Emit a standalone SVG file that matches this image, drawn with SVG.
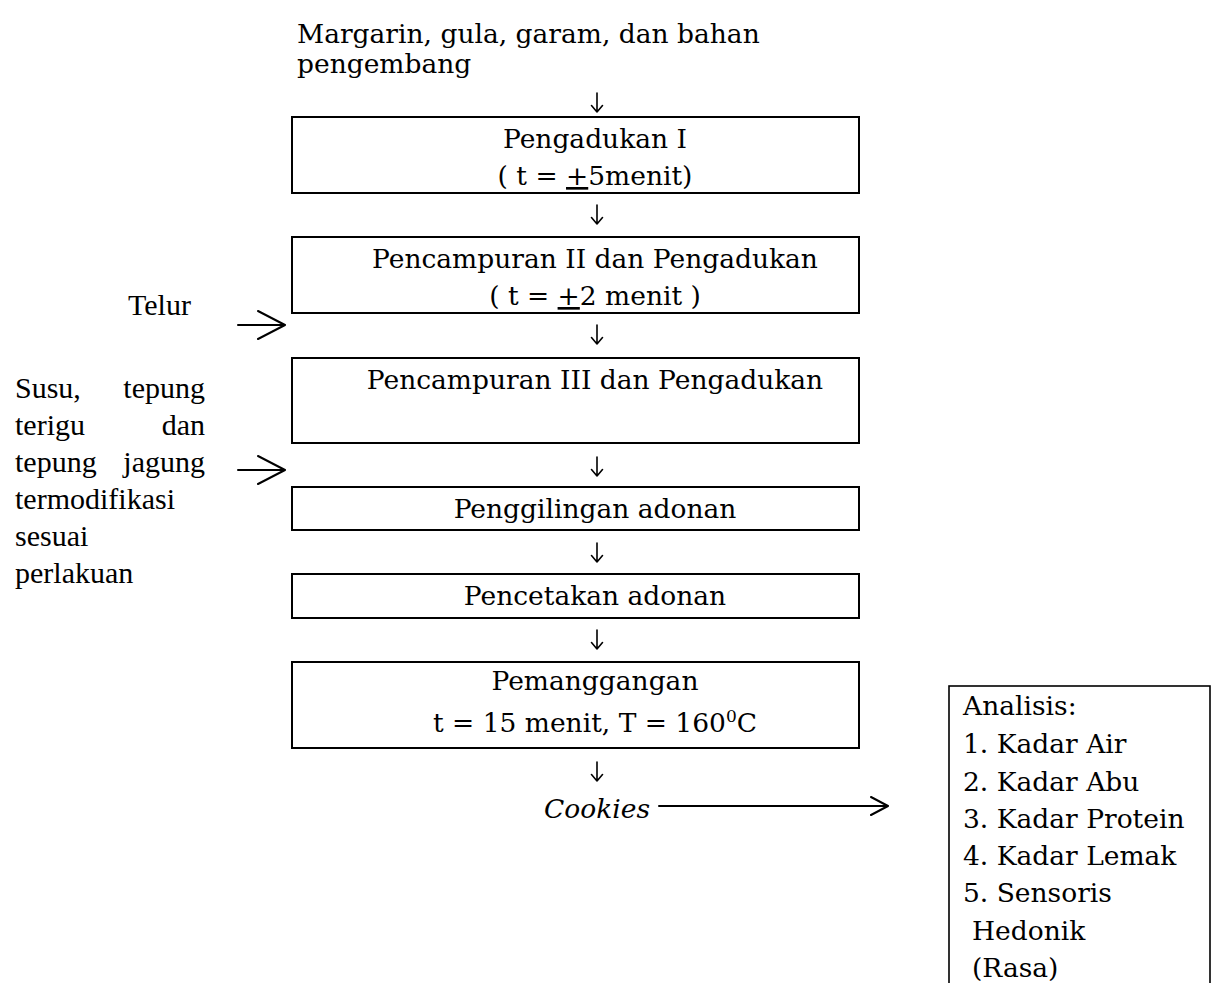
<svg xmlns="http://www.w3.org/2000/svg" width="1213" height="983" viewBox="0 0 1213 983">
<style>
.box{fill:#fff;stroke:#000;stroke-width:2}
.t{font-family:"DejaVu Serif","Liberation Serif",serif;font-size:26.5px;fill:#000}
.c{text-anchor:middle}
.tm{font-family:"Liberation Serif","Times New Roman",serif;font-size:30px;fill:#000}
.ln{fill:none;stroke:#000;stroke-width:1.6;stroke-linecap:round;stroke-linejoin:round}
.ln2{fill:none;stroke:#000;stroke-width:2;stroke-linecap:round;stroke-linejoin:round}
</style>
<rect width="1213" height="983" fill="#fff"/>

<g id="input-top">
<text class="t" x="297" y="43">Margarin, gula, garam, dan bahan</text>
<text class="t" x="297" y="73">pengembang</text>
</g>

<g id="node-pengadukan1">
<rect class="box" x="292" y="117" width="567" height="76"/>
<text class="t c" x="595" y="148">Pengadukan I</text>
<text class="t c" x="595" y="185">( t = <tspan text-decoration="underline">+</tspan>5menit)</text>
</g>

<g id="node-pencampuran2">
<rect class="box" x="292" y="237" width="567" height="76"/>
<text class="t c" x="595" y="268">Pencampuran II dan Pengadukan</text>
<text class="t c" x="595" y="305">( t = <tspan text-decoration="underline">+</tspan>2 menit )</text>
</g>

<g id="node-pencampuran3">
<rect class="box" x="292" y="358" width="567" height="85"/>
<text class="t c" x="595" y="389">Pencampuran III dan Pengadukan</text>
</g>

<g id="node-penggilingan">
<rect class="box" x="292" y="487" width="567" height="43"/>
<text class="t c" x="595" y="518">Penggilingan adonan</text>
</g>

<g id="node-pencetakan">
<rect class="box" x="292" y="574" width="567" height="44"/>
<text class="t c" x="595" y="605">Pencetakan adonan</text>
</g>

<g id="node-pemanggangan">
<rect class="box" x="292" y="662" width="567" height="86"/>
<text class="t c" x="595" y="690">Pemanggangan</text>
<text class="t c" x="595" y="732">t = 15 menit, T = 160<tspan dy="-10" font-size="17">0</tspan><tspan dy="10">C</tspan></text>
</g>

<g id="input-telur">
<text class="tm" x="128" y="315">Telur</text>
</g>

<g id="input-susu">
<text class="tm" y="398"><tspan x="15">Susu,</tspan><tspan x="205" text-anchor="end">tepung</tspan></text>
<text class="tm" y="435"><tspan x="15">terigu</tspan><tspan x="205" text-anchor="end">dan</tspan></text>
<text class="tm" y="472"><tspan x="15">tepung</tspan><tspan x="205" text-anchor="end">jagung</tspan></text>
<text class="tm" x="15" y="509">termodifikasi</text>
<text class="tm" x="15" y="546">sesuai</text>
<text class="tm" x="15" y="583">perlakuan</text>
</g>

<g id="output-cookies">
<text class="t" x="650" y="818" text-anchor="end" font-style="italic">Cookies</text>
</g>

<g id="node-analisis">
<rect x="949" y="686" width="261" height="310" fill="#fff" stroke="#000" stroke-width="1.6"/>
<text class="t" x="963" y="715">Analisis:</text>
<text class="t" x="963" y="753">1. Kadar Air</text>
<text class="t" x="963" y="791">2. Kadar Abu</text>
<text class="t" x="963" y="828">3. Kadar Protein</text>
<text class="t" x="963" y="865">4. Kadar Lemak</text>
<text class="t" x="963" y="902">5. Sensoris</text>
<text class="t" x="972" y="940">Hedonik</text>
<text class="t" x="972" y="977">(Rasa)</text>
</g>

<g id="connectors">
<path class="ln" d="M597,93 V112 M591.5,105.5 L597,112 L602.5,105.5"/>
<path class="ln" d="M597,205 V224 M591.5,217.5 L597,224 L602.5,217.5"/>
<path class="ln" d="M597,325 V344 M591.5,337.5 L597,344 L602.5,337.5"/>
<path class="ln" d="M597,457 V476 M591.5,469.5 L597,476 L602.5,469.5"/>
<path class="ln" d="M597,543 V562 M591.5,555.5 L597,562 L602.5,555.5"/>
<path class="ln" d="M597,630 V649 M591.5,642.5 L597,649 L602.5,642.5"/>
<path class="ln" d="M597,762 V781 M591.5,774.5 L597,781 L602.5,774.5"/>
<path class="ln2" d="M238,325 H284 M258,311 L285,325 L258,339"/>
<path class="ln2" d="M238,470 H284 M258,456 L285,470 L258,484"/>
<path class="ln2" d="M659,806 H887 M871,797 L888,806 L871,815"/>
</g>
</svg>
